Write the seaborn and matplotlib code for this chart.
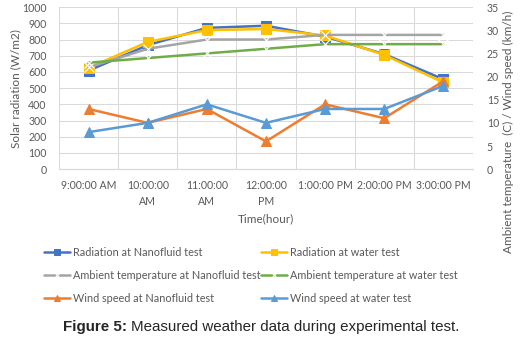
import numpy as np
import pandas as pd
import seaborn as sns
import matplotlib.pyplot as plt
from matplotlib.ticker import FixedLocator

# dados
horas = ["9:00:00 AM", "10:00:00\nAM", "11:00:00\nAM", "12:00:00\nPM",
         "1:00:00 PM", "2:00:00 PM", "3:00:00 PM"]
rad_nano = [608, 765, 872, 885, 818, 710, 555]
rad_agua = [625, 785, 858, 865, 825, 705, 535]
temp_nano = [22, 26, 28, 28, 29, 29, 29]
temp_agua = [23, 24, 25, 26, 27, 27, 27]
vento_nano = [13, 10, 13, 6, 14, 11, 19]
vento_agua = [8, 10, 14, 10, 13, 13, 18]

pos = np.arange(len(horas))
df = pd.DataFrame({'pos': pos, 'rad_nano': rad_nano, 'rad_agua': rad_agua,
                   'temp_nano': temp_nano, 'temp_agua': temp_agua,
                   'vento_nano': vento_nano, 'vento_agua': vento_agua})

sns.set_style("white")
plt.rcParams['font.family'] = ['Lato', 'DejaVu Sans']
cinza = '#595959'

fig = plt.figure(figsize=(5.22, 3.39), dpi=100)
ax = fig.add_axes([0.113, 0.501, 0.793, 0.478])
ax2 = ax.twinx()

lw = 1.8
sns.lineplot(data=df, x='pos', y='rad_nano', ax=ax, color='#4472C4', lw=lw,
             marker='s', ms=6.5, mec='#4472C4', label='Radiation at Nanofluid test', legend=False)
sns.lineplot(data=df, x='pos', y='rad_agua', ax=ax, color='#FFC000', lw=lw,
             marker='s', ms=6.5, mec='#FFC000', label='Radiation at water test', legend=False)
sns.lineplot(data=df, x='pos', y='temp_nano', ax=ax2, color='#A5A5A5', lw=lw,
             marker='x', ms=6.5, mew=0.8, label='Ambient temperature at Nanofluid test', legend=False)
sns.lineplot(data=df, x='pos', y='temp_agua', ax=ax2, color='#70AD47', lw=lw,
             marker='x', ms=6.5, mew=0.8, label='Ambient temperature at water test', legend=False)
sns.lineplot(data=df, x='pos', y='vento_nano', ax=ax2, color='#ED7D31', lw=lw,
             marker='^', ms=7, mec='#ED7D31', label='Wind speed at Nanofluid test', legend=False)
sns.lineplot(data=df, x='pos', y='vento_agua', ax=ax2, color='#5B9BD5', lw=lw,
             marker='^', ms=7, mec='#5B9BD5', label='Wind speed at water test', legend=False)

# eixos
ax.set_xlim(-0.5, 6.5)
ax.set_ylim(0, 1000)
ax2.set_ylim(0, 35)
ax.set_yticks(range(0, 1001, 100))
ax2.set_yticks(range(0, 36, 5))
ax.set_xticks(pos)
ax.set_xticklabels(horas, fontsize=7.6, color=cinza, linespacing=1.6)
ax.xaxis.set_minor_locator(FixedLocator(np.arange(-0.5, 7, 1)))
ax.tick_params(axis='x', which='both', length=0, pad=7.5)
ax.tick_params(axis='y', length=0, pad=9, labelsize=7.6, labelcolor=cinza)
ax2.tick_params(axis='y', length=0, pad=10, labelsize=7.6, labelcolor=cinza)

ax.grid(axis='y', color='#D9D9D9', lw=0.75)
ax.grid(axis='x', which='minor', color='#D9D9D9', lw=0.75)
ax.set_axisbelow(True)
for a in (ax, ax2):
    for s in ['top', 'left', 'right']:
        a.spines[s].set_visible(False)
    a.spines['bottom'].set_color('#D9D9D9')

ax.set_xlabel("Time(hour)", fontsize=8.5, color=cinza)
ax.xaxis.set_label_coords(0.5, -0.27)
ax.set_ylabel("Solar radiation (W/m2)", fontsize=8.5, color=cinza)
ax.yaxis.set_label_coords(-0.092, 0.5)
ax2.set_ylabel("Ambient temperature  (C) / Wind speed (km/h)", fontsize=8.5, color=cinza, rotation=90)
ax2.yaxis.set_label_coords(1.073, 0.228)

# legenda em duas colunas
hs, ls = ax.get_legend_handles_labels()
hs2, ls2 = ax2.get_legend_handles_labels()
ordem_h = [hs[0], hs2[0], hs2[2], hs[1], hs2[1], hs2[3]]
ordem_l = [ls[0], ls2[0], ls2[2], ls[1], ls2[1], ls2[3]]
fig.legend(ordem_h, ordem_l, ncol=2, loc='upper left', bbox_to_anchor=(44 / 522, 1 - 247 / 339),
           frameon=False, fontsize=7.8, labelcolor=cinza, handlelength=2.4, handletextpad=0.25,
           columnspacing=0.1, labelspacing=1.1, borderpad=0, borderaxespad=0, markerscale=0.65)

# legenda da figura
fig.text(63 / 522, 1 - 327 / 339, "Figure 5:", fontsize=10.9, fontweight='bold',
         family='Liberation Sans', va='center', ha='left')
fig.text(131 / 522, 1 - 327 / 339, "Measured weather data during experimental test.", fontsize=10.9,
         family='Liberation Sans', va='center', ha='left')

plt.savefig("out.png", dpi=100)
